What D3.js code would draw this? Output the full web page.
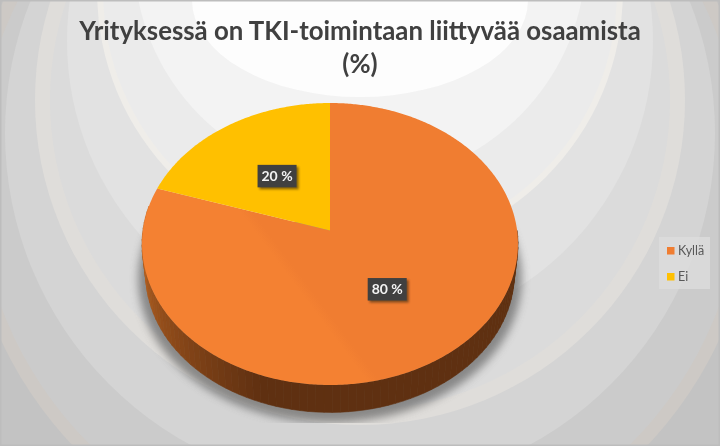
<!DOCTYPE html>
<html lang="fi">
<head>
<meta charset="utf-8">
<script src="https://cdn.jsdelivr.net/npm/d3@7"></script>
<style>
  html, body { margin: 0; padding: 0; background: #fff; }
  svg { display: block; }
  text { font-family: Lato, "Open Sans", sans-serif; }
</style>
</head>
<body>
<div id="chart"></div>
<script>
const categories = ["Kyllä", "Ei"];
const values = [80, 20];
const valueLabels = ["80 %", "20 %"];
const titleLines = ["Yrityksessä on TKI-toimintaan liittyvää osaamista", "(%)"];

const width = 720;
const height = 446;

const svg = d3.select("#chart")
    .append("svg")
    .attr("width", width)
    .attr("height", height);

const defs = svg.append("defs");

// Soft edges, the reference is a slightly blurry raster
defs.append("filter").attr("id", "soft")
    .append("feGaussianBlur").attr("stdDeviation", 0.35);
defs.append("filter").attr("id", "shadowBlur")
    .attr("x", "-10%").attr("y", "-10%").attr("width", "120%").attr("height", "120%")
    .append("feGaussianBlur").attr("stdDeviation", 4);
defs.append("filter").attr("id", "labelShadow")
    .attr("x", "-30%").attr("y", "-30%").attr("width", "170%").attr("height", "170%")
    .append("feGaussianBlur").attr("stdDeviation", 1.2);
defs.append("clipPath").attr("id", "shadowClip")
    .append("rect").attr("x", 128).attr("y", 222).attr("width", 404).attr("height", 201);

// Background: stepped rings, painted from the outside in
const rings = [
    { cy: 173, rx: 396, ry: 396, fill: "#cdc9c5" },
    { cy: 173, rx: 383, ry: 383, fill: "#cbcbcb" },
    { cy: 133, rx: 355, ry: 355, fill: "#d4d4d4" },
    { cy: 100, rx: 325, ry: 325, fill: "#dfddda" },
    { cy: 100, rx: 310, ry: 310, fill: "#dbdbdb" },
    { cy: 41, rx: 293, ry: 293, fill: "#e2e2e2" },
    { cy: -9, rx: 263, ry: 263, fill: "#efede9" },
    { cy: -9, rx: 257, ry: 257, fill: "#ebebeb" },
    { cy: -44, rx: 226, ry: 226, fill: "#f3f3f3" },
    { cy: 0, rx: 168, ry: 97, fill: "#fdfdfd" }
];

svg.append("rect")
    .attr("width", width)
    .attr("height", height)
    .attr("fill", "#c3c3c3");

svg.append("g")
    .selectAll("ellipse")
    .data(rings)
    .join("ellipse")
    .attr("cx", 360)
    .attr("cy", d => d.cy)
    .attr("rx", d => d.rx)
    .attr("ry", d => d.ry)
    .attr("fill", d => d.fill);

svg.append("rect")
    .attr("x", 0.75).attr("y", 0.75)
    .attr("width", width - 1.5).attr("height", height - 1.5)
    .attr("fill", "none")
    .attr("stroke", "#bdbdbd")
    .attr("stroke-width", 1.5);

// Pie in perspective: unit circle projected so the apex sits above the ellipse centre
const apex = { x: 330, y: 230.5 };
const perspective = 0.0957;
const radiusX = 187.1;
const radiusY = 139.7;

function project(angle, t, scale, baseY) {
    const px = Math.sin(angle) * t;
    const py = -Math.cos(angle) * t;
    const w = 1 - perspective * py;
    return [apex.x + scale * radiusX * px / w, baseY + scale * radiusY * py / w];
}

const pie = d3.pie().sort(null).startAngle(0).endAngle(2 * Math.PI);
const slices = pie(values);
const color = d3.scaleOrdinal().domain(categories).range(["#f07d31", "#ffc000"]);
const line = d3.line();

function slicePath(s) {
    const steps = d3.range(s.startAngle, s.endAngle, 0.01).concat([s.endAngle]);
    return line([[apex.x, apex.y]].concat(steps.map(a => project(a, 1, 1, apex.y)))) + "Z";
}

// Lower rim of the disc
const lowerScale = 0.98;
const lowerY = 261;
const fullCircle = d3.range(0, 2 * Math.PI, 0.02);

svg.append("path")
    .attr("d", line(fullCircle.map(a => project(a, 1, 1.02, lowerY + 4))) + "Z")
    .attr("fill", "#555")
    .attr("opacity", 0.62)
    .attr("filter", "url(#shadowBlur)")
    .attr("clip-path", "url(#shadowClip)");

// Side wall as narrow strips from right edge to left edge, shaded by angle
const sideColor = d3.scaleLinear()
    .domain([Math.PI / 2, 1.1 * Math.PI, 1.5 * Math.PI])
    .range(["#5f3011", "#5f3011", "#bd6522"]);
const stripStep = 0.04;

svg.append("g")
    .selectAll("path")
    .data(d3.range(Math.PI / 2, 1.55 * Math.PI, stripStep))
    .join("path")
    .attr("d", a => line([
        project(a, 1, 1, apex.y),
        project(a + stripStep, 1, 1, apex.y),
        project(a + stripStep, 1, lowerScale, lowerY),
        project(a, 1, lowerScale, lowerY)
    ]) + "Z")
    .attr("fill", a => sideColor(a))
    .attr("stroke", a => sideColor(a))
    .attr("stroke-width", 0.6);

// Top face: the big slice has a faint lighter part in the lower left
const topGradient = defs.append("linearGradient")
    .attr("id", "orangeTop")
    .attr("gradientUnits", "userSpaceOnUse")
    .attr("x1", 316).attr("y1", 313)
    .attr("x2", 324).attr("y2", 307);
topGradient.append("stop").attr("offset", 0).attr("stop-color", "#f48132");
topGradient.append("stop").attr("offset", 1).attr("stop-color", color(categories[0]));

svg.append("g")
    .selectAll("path")
    .data(slices)
    .join("path")
    .attr("d", slicePath)
    .attr("fill", (d, i) => i === 0 ? "url(#orangeTop)" : color(categories[i]));

// Value labels at the middle of each slice
const labelW = 39;
const labelH = 22.5;
const labels = svg.append("g")
    .selectAll("g")
    .data(slices)
    .join("g")
    .attr("transform", d => {
        const p = project((d.startAngle + d.endAngle) / 2, 0.5, 1, apex.y);
        return `translate(${p[0]}, ${p[1]})`;
    });

labels.append("rect")
    .attr("x", -labelW / 2 + 2).attr("y", -labelH / 2 + 2)
    .attr("width", labelW).attr("height", labelH)
    .attr("fill", "#3a2a10")
    .attr("opacity", 0.6)
    .attr("filter", "url(#labelShadow)");

labels.append("rect")
    .attr("x", -labelW / 2).attr("y", -labelH / 2)
    .attr("width", labelW).attr("height", labelH)
    .attr("fill", "#404040");

labels.append("text")
    .text((d, i) => valueLabels[i])
    .attr("text-anchor", "middle")
    .attr("y", 5)
    .attr("font-size", 14)
    .attr("font-weight", 700)
    .attr("fill", "#f2f2f2")
    .attr("filter", "url(#soft)");

// Title
svg.append("g")
    .selectAll("text")
    .data(titleLines)
    .join("text")
    .text(d => d)
    .attr("x", 360)
    .attr("y", (d, i) => 40 + i * 32.5)
    .attr("text-anchor", "middle")
    .attr("font-size", 25.8)
    .attr("font-weight", 700)
    .attr("fill", "#404040")
    .attr("filter", "url(#soft)");

// Legend
const legend = svg.append("g");
legend.append("rect")
    .attr("x", 659).attr("y", 237)
    .attr("width", 51).attr("height", 52)
    .attr("fill", "#dddddd")
    .attr("opacity", 0.75);

const legendY = d3.scalePoint()
    .domain(categories)
    .range([250.5, 276.5]);

const legendItems = legend.selectAll("g.item")
    .data(categories)
    .join("g")
    .attr("class", "item")
    .attr("transform", d => `translate(667, ${legendY(d)})`);

legendItems.append("rect")
    .attr("y", -3.5)
    .attr("width", 7.5).attr("height", 7.5)
    .attr("fill", d => color(d));

legendItems.append("text")
    .text(d => d)
    .attr("x", 11)
    .attr("y", 4.5)
    .attr("font-size", 12.5)
    .attr("fill", "#595959")
    .attr("filter", "url(#soft)");
</script>
</body>
</html>
